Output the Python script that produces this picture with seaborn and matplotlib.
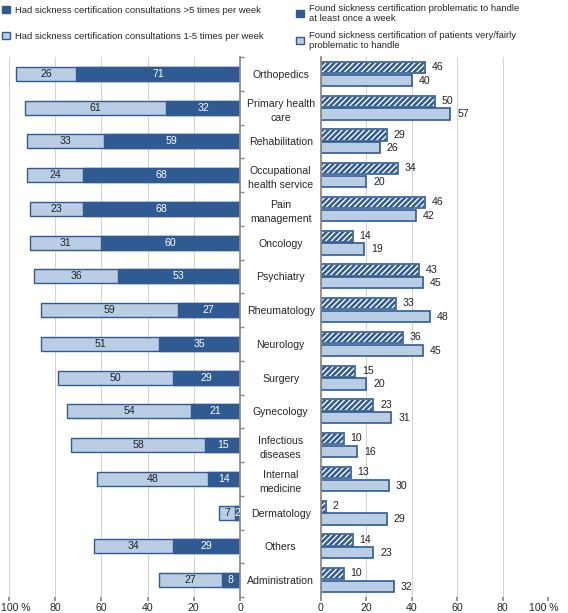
import matplotlib
matplotlib.use("Agg")
import matplotlib.pyplot as plt
import matplotlib.transforms as mtransforms
import numpy as np
import pandas as pd
import seaborn as sns
from matplotlib.patches import Patch

# --- data ---
categories = ["Orthopedics", "Primary health\ncare", "Rehabilitation",
              "Occupational\nhealth service", "Pain\nmanagement", "Oncology",
              "Psychiatry", "Rheumatology", "Neurology", "Surgery", "Gynecology",
              "Infectious\ndiseases", "Internal\nmedicine", "Dermatology",
              "Others", "Administration"]
over5 = [71, 32, 59, 68, 68, 60, 53, 27, 35, 29, 21, 15, 14, 2, 29, 8]
one_to5 = [26, 61, 33, 24, 23, 31, 36, 59, 51, 50, 54, 58, 48, 7, 34, 27]
weekly_problem = [46, 50, 29, 34, 46, 14, 43, 33, 36, 15, 23, 10, 13, 2, 14, 10]
very_problem = [40, 57, 26, 20, 42, 19, 45, 48, 45, 20, 31, 16, 30, 29, 23, 32]

lab_over5 = "Had sickness certification consultations >5 times per week"
lab_1to5 = "Had sickness certification consultations 1-5 times per week"
lab_weekly = "Found sickness certification problematic to handle\nat least once a week"
lab_very = "Found sickness certification of patients very/fairly\nproblematic to handle"

dark = "#2f5b92"
light = "#b9cde5"
grid_c = "#d4d4d4"

sns.set_theme(style="white")
plt.rcParams["font.family"] = ["Liberation Sans", "DejaVu Sans"]
plt.rcParams["hatch.linewidth"] = 1.0
fs = 7.6
fs_leg = 6.8

fig = plt.figure(figsize=(5.68, 6.13), dpi=100)
axL = fig.add_axes([9 / 568, 1 - 597 / 613, 231 / 568, 540 / 613])
axR = fig.add_axes([321 / 568, 1 - 597 / 613, 227 / 568, 540 / 613])

left_df = pd.DataFrame({"cat": categories, "over5": over5, "one_to5": one_to5})
left_df["total"] = left_df["over5"] + left_df["one_to5"]

# left: stacked bars growing leftwards
sns.barplot(data=left_df, y="cat", x="total", color=light, width=0.42,
            edgecolor=dark, linewidth=1.0, saturation=1, ax=axL)
sns.barplot(data=left_df, y="cat", x="over5", color=dark, width=0.42,
            edgecolor=dark, linewidth=1.0, saturation=1, ax=axL)
axL.set_xlim(100, 0)
n = len(categories)
axL.set_ylim(n - 0.5, -0.5)

for i, (a, b) in enumerate(zip(over5, one_to5)):
    axL.text(a / 2, i, str(a), ha="center", va="center", color="white", fontsize=fs)
    axL.text(a + b / 2, i, str(b), ha="center", va="center", color="#222222", fontsize=fs)

# right: grouped bars
right_df = pd.DataFrame({
    "cat": categories * 2,
    "val": weekly_problem + very_problem,
    "grp": [lab_weekly] * n + [lab_very] * n,
})
sns.barplot(data=right_df, y="cat", x="val", hue="grp", palette=["white", light],
            width=0.76, gap=0.12, edgecolor=dark, linewidth=1.2, saturation=1,
            legend=False, ax=axR)
for p in axR.patches[:n]:
    p.set_hatch("//////")
    p.set_facecolor(dark)
    p.set_edgecolor("white")
# redraw outlines for hatched bars
for p in axR.patches[:n]:
    axR.add_patch(plt.Rectangle(p.get_xy(), p.get_width(), p.get_height(),
                                fill=False, edgecolor=dark, linewidth=1.2))
axR.set_xlim(0, 100)
axR.set_ylim(n - 0.5, -0.5)

for i, (a, b) in enumerate(zip(weekly_problem, very_problem)):
    axR.text(a + 3, i - 0.2, str(a), ha="left", va="center", color="#222222", fontsize=fs)
    axR.text(b + 3, i + 0.2, str(b), ha="left", va="center", color="#222222", fontsize=fs)

ticks = [0, 20, 40, 60, 80, 100]
for ax in (axL, axR):
    ax.set_xlabel("")
    ax.set_ylabel("")
    ax.set_xticks(ticks)
    ax.set_xticklabels(["0", "20", "40", "60", "80", "100 %"], fontsize=fs)
    ax.set_axisbelow(True)
    ax.xaxis.grid(True, color=grid_c, linewidth=0.8)
    for s in ax.spines.values():
        s.set_visible(False)
    ax.tick_params(axis="x", length=3, color="#888888", pad=1, bottom=True)
    ax.set_yticks(np.arange(n))
    ax.set_yticks(np.arange(n + 1) - 0.5, minor=True)
    ax.tick_params(axis="y", which="major", length=0)
    ax.tick_params(axis="y", which="minor", length=3, color="#888888")

axL.set_yticklabels([])
axL.spines["right"].set_visible(True)
axL.spines["right"].set_color("#888888")
axL.yaxis.tick_right()
axL.tick_params(axis="y", which="both", labelright=False, labelleft=False)
# nudge the "100 %" labels so they stay inside the figure
shift = mtransforms.ScaledTranslation(7 / 100, 0, fig.dpi_scale_trans)
lbl = axL.get_xticklabels()[-1]
lbl.set_transform(lbl.get_transform() + shift)
shift_r = mtransforms.ScaledTranslation(-4 / 100, 0, fig.dpi_scale_trans)
lbl = axR.get_xticklabels()[-1]
lbl.set_transform(lbl.get_transform() + shift_r)

axR.spines["left"].set_visible(True)
axR.spines["left"].set_color("#888888")
axR.set_yticklabels(categories, fontsize=fs, ha="center", linespacing=1.5)
axR.tick_params(axis="y", which="major", pad=29)

# legends
hL = [Patch(facecolor=dark, edgecolor=dark), Patch(facecolor=light, edgecolor=dark)]
fig.legend(hL, [lab_over5, lab_1to5], loc="upper left", bbox_to_anchor=(-0.006, 1.0),
           frameon=False, fontsize=fs_leg, handlelength=0.8, handleheight=0.8,
           handletextpad=0.5, labelspacing=1.85, borderaxespad=0.2)
hR = [Patch(facecolor=dark, edgecolor=dark, hatch="////"), Patch(facecolor=light, edgecolor=dark)]
fig.legend(hR, [lab_weekly, lab_very], loc="upper left", bbox_to_anchor=(0.512, 1.003),
           frameon=False, fontsize=fs_leg, handlelength=0.8, handleheight=0.8,
           handletextpad=0.5, labelspacing=0.8, borderaxespad=0.2)

fig.savefig("out.png", dpi=100)
